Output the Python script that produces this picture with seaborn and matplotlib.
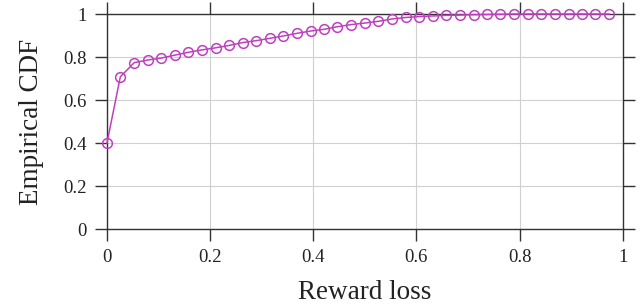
import numpy as np
import pandas as pd
import matplotlib
matplotlib.use('Agg')
import matplotlib.pyplot as plt
import seaborn as sns

reward_loss = [0.000, 0.026, 0.053, 0.079, 0.105, 0.132, 0.158, 0.184, 0.211, 0.237,
               0.263, 0.289, 0.316, 0.342, 0.368, 0.395, 0.421, 0.447, 0.474, 0.500,
               0.526, 0.553, 0.579, 0.605, 0.632, 0.658, 0.684, 0.711, 0.737, 0.763,
               0.789, 0.816, 0.842, 0.868, 0.895, 0.921, 0.947, 0.974]
cdf = [0.399, 0.708, 0.774, 0.786, 0.795, 0.809, 0.822, 0.833, 0.843, 0.854,
       0.867, 0.876, 0.887, 0.898, 0.910, 0.921, 0.929, 0.941, 0.951, 0.958,
       0.966, 0.977, 0.984, 0.988, 0.991, 0.994, 0.995, 0.997, 0.998, 0.999,
       1.000, 1.000, 1.000, 1.000, 1.000, 1.000, 1.000, 1.000]
tick_vals = [0, 0.2, 0.4, 0.6, 0.8, 1]
tick_labels = ['0', '0.2', '0.4', '0.6', '0.8', '1']

df = pd.DataFrame({'loss': reward_loss, 'cdf': cdf})

sns.set_style('whitegrid')
plt.rcParams['font.family'] = ['Liberation Serif', 'DejaVu Serif']

fig = plt.figure(figsize=(6.44, 3.05), dpi=100)
ax = fig.add_axes([0.166, 0.249, 0.801, 0.705])

cor = '#BF40BF'
sns.lineplot(data=df, x='loss', y='cdf', color=cor, linewidth=1.1,
             marker='o', markersize=7, markerfacecolor='none',
             markeredgecolor=cor, markeredgewidth=1.1, ax=ax, clip_on=False,
             zorder=5)

ax.set_xlim(0, 1)
ax.set_ylim(0, 1)
ax.set_xticks(tick_vals)
ax.set_xticklabels(tick_labels)
ax.set_yticks(tick_vals)
ax.set_yticklabels(tick_labels)
ax.grid(True, color='#d0d0d0', linewidth=0.8)
for s in ax.spines.values():
    s.set_visible(True)
    s.set_color('#333333')
    s.set_linewidth(1.0)
ax.tick_params(axis='both', which='both', direction='out', length=8.5, width=1.0,
               color='#333333', labelsize=13.5, labelcolor='#222222',
               top=True, right=True, bottom=True, left=True, pad=6)
ax.set_xlabel('Reward loss', fontsize=19.5, color='#222222', labelpad=10)
ax.set_ylabel('Empirical CDF', fontsize=19.5, color='#222222', labelpad=14)

fig.savefig('out.png', dpi=100)
